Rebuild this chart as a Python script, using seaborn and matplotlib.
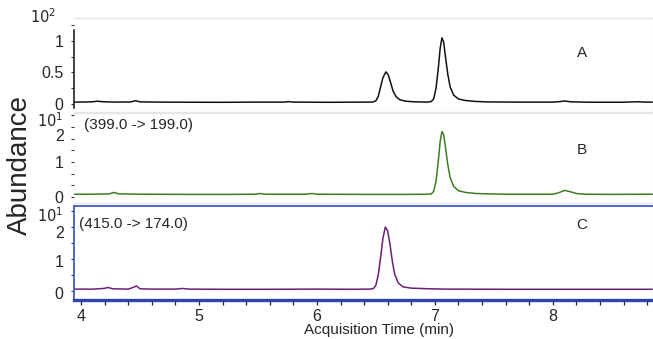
import matplotlib
matplotlib.use("Agg")
import matplotlib.pyplot as plt
import matplotlib.transforms as mtrans
import seaborn as sns
import pandas as pd
from matplotlib.ticker import MultipleLocator

# trace A (x10^2)
time_a = [3.93, 4.05, 4.10, 4.14, 4.18, 4.30, 4.42, 4.46, 4.50, 4.65, 4.90, 5.20, 5.50, 5.72, 5.76,
          5.80, 6.10, 6.40, 6.47, 6.50, 6.52, 6.54, 6.56, 6.585, 6.605, 6.625, 6.645, 6.67, 6.70,
          6.75, 6.82, 6.94, 6.97, 6.99, 7.01, 7.03, 7.045, 7.06, 7.075, 7.09, 7.11, 7.13, 7.16,
          7.20, 7.26, 7.35, 7.45, 7.70, 8.00, 8.06, 8.10, 8.15, 8.30, 8.60, 8.72, 8.78, 8.86]
abund_a = [0.03, 0.032, 0.036, 0.045, 0.036, 0.03, 0.032, 0.052, 0.034, 0.03, 0.028, 0.027, 0.03,
           0.03, 0.038, 0.03, 0.027, 0.03, 0.03, 0.05, 0.12, 0.27, 0.42, 0.51, 0.46, 0.34, 0.21,
           0.12, 0.07, 0.045, 0.035, 0.03, 0.04, 0.08, 0.25, 0.58, 0.88, 1.05, 0.98, 0.75, 0.47,
           0.27, 0.14, 0.08, 0.055, 0.04, 0.033, 0.03, 0.03, 0.038, 0.048, 0.035, 0.028, 0.028,
           0.036, 0.03, 0.03]

# trace B (x10^1), 399.0 -> 199.0
time_b = [3.93, 4.10, 4.24, 4.28, 4.32, 4.50, 4.90, 5.30, 5.48, 5.52, 5.56, 5.90, 5.96, 6.00, 6.40,
          6.80, 6.94, 6.97, 6.99, 7.01, 7.03, 7.045, 7.06, 7.075, 7.09, 7.11, 7.13, 7.16, 7.20,
          7.26, 7.35, 7.45, 7.60, 8.00, 8.05, 8.10, 8.15, 8.20, 8.28, 8.50, 8.86]
abund_b = [0.08, 0.08, 0.09, 0.13, 0.09, 0.08, 0.075, 0.075, 0.08, 0.10, 0.08, 0.08, 0.10, 0.08,
           0.075, 0.075, 0.08, 0.09, 0.16, 0.45, 1.05, 1.58, 1.87, 1.78, 1.42, 0.92, 0.55, 0.30,
           0.18, 0.13, 0.10, 0.09, 0.08, 0.08, 0.12, 0.19, 0.15, 0.10, 0.08, 0.075, 0.08]

# trace C (x10^1), 415.0 -> 174.0
time_c = [3.93, 4.10, 4.19, 4.23, 4.27, 4.40, 4.44, 4.47, 4.50, 4.60, 4.80, 4.86, 4.92, 5.20, 5.60,
          6.00, 6.30, 6.45, 6.48, 6.50, 6.52, 6.54, 6.56, 6.58, 6.60, 6.62, 6.64, 6.66, 6.69,
          6.73, 6.80, 6.95, 7.10, 7.60, 8.20, 8.86]
abund_c = [0.06, 0.06, 0.08, 0.11, 0.07, 0.06, 0.11, 0.16, 0.07, 0.06, 0.06, 0.08, 0.06, 0.055,
           0.055, 0.06, 0.055, 0.06, 0.08, 0.18, 0.50, 1.05, 1.65, 2.00, 1.88, 1.45, 0.92, 0.52,
           0.25, 0.13, 0.09, 0.07, 0.06, 0.055, 0.055, 0.055]

panel_letters = ["A", "B", "C"]
transitions = [None, "(399.0 -> 199.0)", "(415.0 -> 174.0)"]
exponents = ["$10^2$", "$10^1$", "$10^1$"]
yticks_major = [[0, 0.5, 1], [0, 1, 2], [0, 1, 2]]
ytick_labels = [["0", "0.5", "1"], ["0", "1", "2"], ["0", "1", "2"]]

sns.set_style("white")
plt.rcParams["font.family"] = ["Liberation Sans", "DejaVu Sans"]

W, H = 653, 339
fig = plt.figure(figsize=(W / 100, H / 100), dpi=100)

# pixel rows of each panel (top, bottom) and y-limits
rows = [(18, 112), (113, 203), (206, 300)]
ylims = [(-0.127, 1.365), (-0.171, 2.4), (-0.28, 2.656)]
minor_steps = [0.25, 1 / 3, 0.5]
colors = ["#111111", "#3b7f22", "#6b1f78"]
frame_blue = "#4257c6"
# the top label in B and C sits a little under its tick, as in the instrument export
label_shift = [[0, 0, 0], [0, 0, 8], [2, 2, 5]]

traces = [(time_a, abund_a), (time_b, abund_b), (time_c, abund_c)]
axes = []
for i, (t, v) in enumerate(traces):
    top, bot = rows[i]
    ax = fig.add_axes([74 / W, 1 - bot / H, (W - 74) / W, (bot - top) / H])
    df = pd.DataFrame({"time": t, "abund": v})
    sns.lineplot(data=df, x="time", y="abund", ax=ax, color=colors[i], lw=1.1,
                 sort=False, estimator=None)
    ax.set_xlim(3.94, 8.85)
    ax.set_ylim(*ylims[i])
    ax.set_xlabel("")
    ax.set_ylabel("")
    ax.set_yticks(yticks_major[i])
    ax.set_yticklabels(ytick_labels[i], fontsize=11.5)
    ax.yaxis.set_minor_locator(MultipleLocator(minor_steps[i]))
    ax.tick_params(axis="y", which="both", left=True, length=2.5, width=0.8,
                   color="#333333", pad=5)
    ax.tick_params(axis="x", which="both", bottom=False, labelbottom=False)
    for lbl, dy in zip(ax.get_yticklabels(), label_shift[i]):
        if dy:
            lbl.set_transform(lbl.get_transform() +
                              mtrans.ScaledTranslation(0, -dy / 100, fig.dpi_scale_trans))
    for s in ["top", "right", "bottom"]:
        ax.spines[s].set_color("#e6e6e6")
        ax.spines[s].set_linewidth(1.0)
    ax.text(0.877, ax.transAxes.inverted().transform((0, H - (53, 150, 225)[i]))[1],
            panel_letters[i], transform=ax.transAxes, fontsize=11, ha="center", va="center")
    if transitions[i]:
        ax.text(0.018 - 0.009 * (i - 1), 0.87 - 0.06 * (i - 1), transitions[i],
                transform=ax.transAxes, fontsize=11, ha="left", va="center")
    axes.append(ax)

ax_a, ax_b, ax_c = axes

# panel A: solid black left axis line
ax_a.spines["left"].set_color("#111111")
ax_a.spines["left"].set_linewidth(1.1)
ax_a.spines["left"].set_bounds(-0.06, 1.17)

# panel B: ticks only
ax_b.spines["left"].set_visible(False)

# panel C: blue frame and time axis
for s in ["left", "top"]:
    ax_c.spines[s].set_color(frame_blue)
    ax_c.spines[s].set_linewidth(1.3)
ax_c.spines["bottom"].set_color("#2f43b0")
ax_c.spines["bottom"].set_linewidth(2.4)
ax_c.set_xticks([4, 5, 6, 7, 8])
ax_c.set_xticklabels(["4", "5", "6", "7", "8"], fontsize=11.5)
ax_c.xaxis.set_minor_locator(MultipleLocator(0.2))
ax_c.tick_params(axis="x", which="both", bottom=True, labelbottom=True, length=3.5,
                 width=0.9, color="#222222", pad=3)

# exponent labels
for (xr, yc, txt) in [(56, 17, exponents[0]), (63, 121, exponents[1]), (63, 216, exponents[2])]:
    fig.text(xr / W, 1 - yc / H, txt, fontsize=10.5, ha="right", va="center")

fig.text(20 / W, 1 - 165 / H, "Abundance", fontsize=20, rotation=90, ha="center", va="center")
fig.text(379 / W, 1 - 330 / H, "Acquisition Time (min)", fontsize=11, ha="center", va="center")

fig.savefig("out.png", dpi=100)
